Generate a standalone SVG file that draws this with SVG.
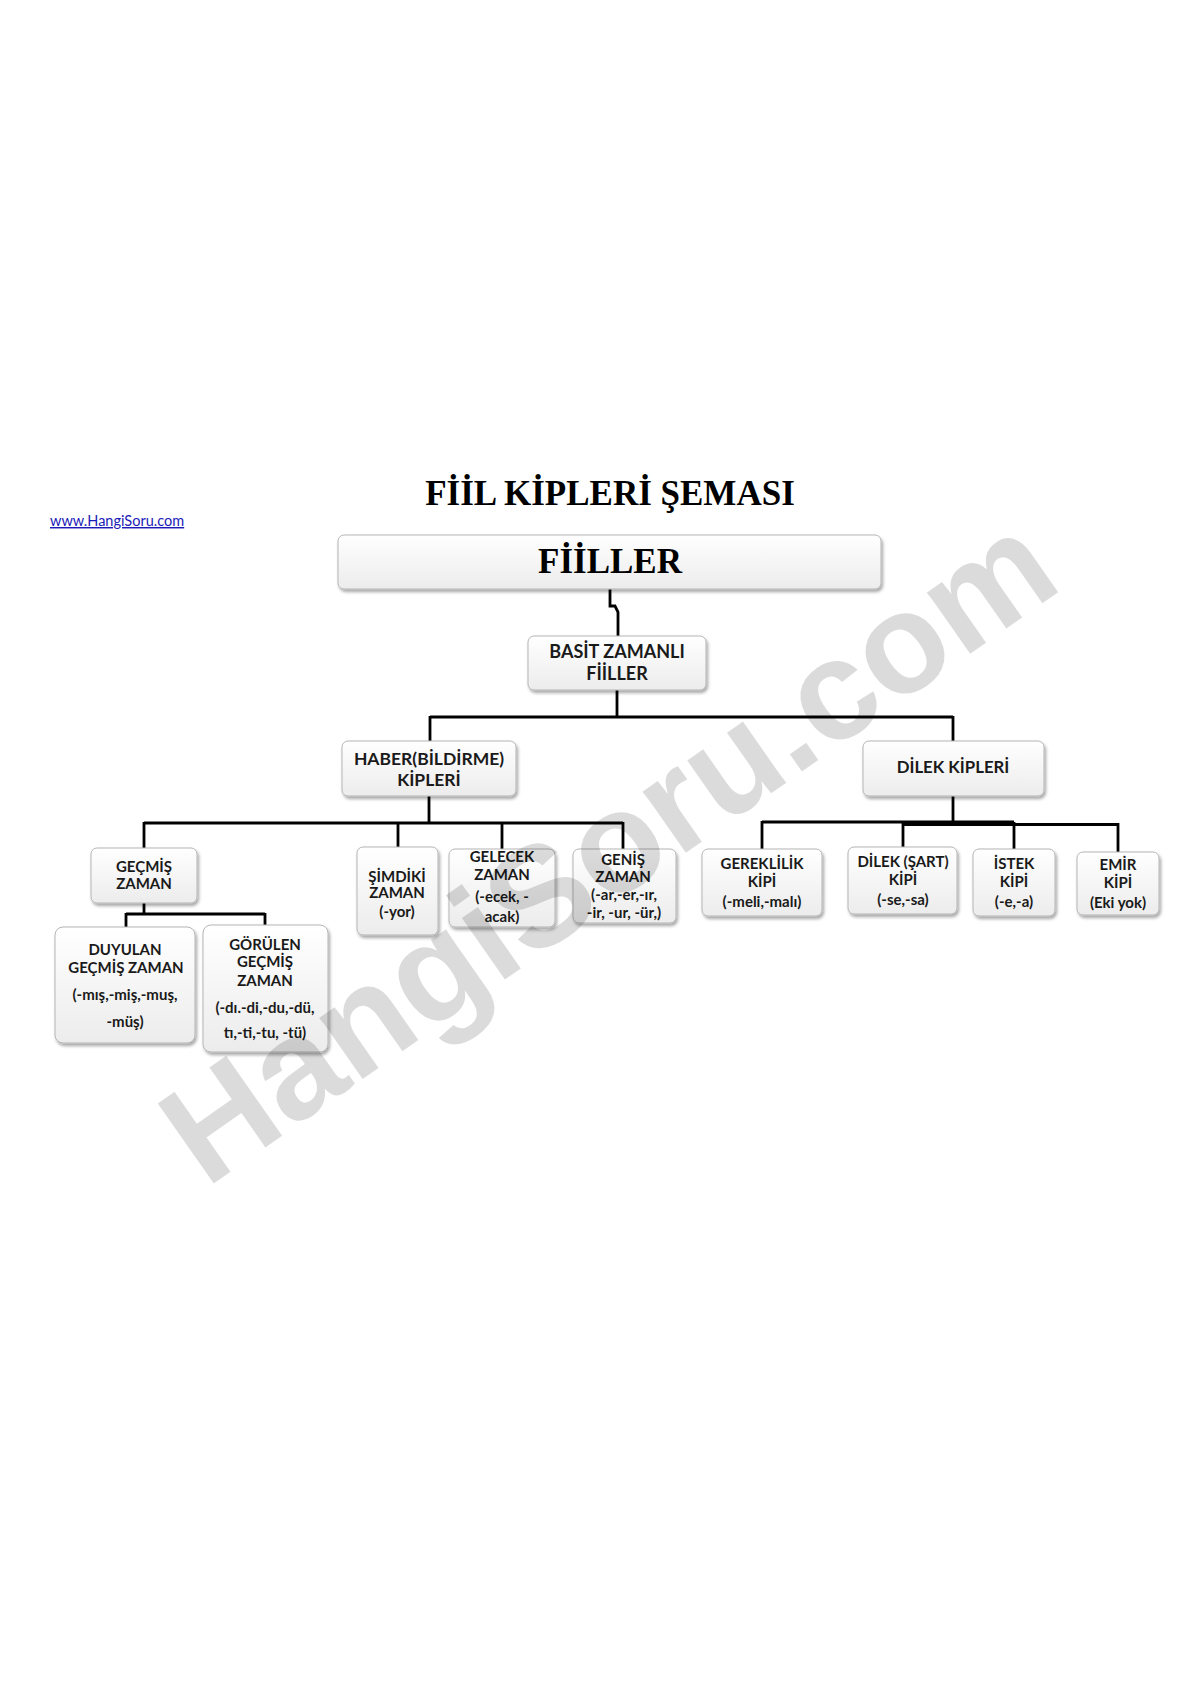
<svg xmlns="http://www.w3.org/2000/svg" width="1190" height="1684" viewBox="0 0 1190 1684">
<defs>
<linearGradient id="g" x1="0" y1="0" x2="0" y2="1">
<stop offset="0" stop-color="#ffffff"/>
<stop offset="1" stop-color="#ececec"/>
</linearGradient>
<filter id="sh" x="-10%" y="-10%" width="130%" height="140%">
<feDropShadow dx="1.5" dy="2.5" stdDeviation="1.5" flood-color="#000" flood-opacity="0.35"/>
</filter>
</defs>
<style>
.box{fill:url(#g);stroke:#b5b5b5;stroke-width:1;filter:url(#sh)}
.t{font-family:Lato,"Liberation Sans",sans-serif;font-weight:bold;fill:#1a1a1a;text-anchor:middle}
.s15{font-size:15px}
.s17{font-size:17px}
.s18{font-size:18px}
.c{fill:none;stroke:#000;stroke-width:2.8}
.wm{font-family:"Liberation Sans",Arial,sans-serif;font-weight:bold;font-size:142px;fill:#000;fill-opacity:0.14;text-anchor:middle}
</style>
<rect width="1190" height="1684" fill="#fff"/>
<text x="610" y="505" font-family="'Liberation Serif',serif" font-weight="bold" font-size="35" text-anchor="middle" fill="#000">FİİL KİPLERİ ŞEMASI</text>
<text x="50" y="526" font-family="Lato,'Liberation Sans',sans-serif" font-size="14.5" fill="#1b1bb8" text-decoration="underline">www.HangiSoru.com</text>

<g id="connectors">
<path class="c" d="M610,589 V606 H615 L618,612 V636"/>
<path class="c" d="M617,690 V717 M430,717 H953 M430,716 V741 M953,716 V741"/>
<path class="c" d="M429,796 V823 M144,823 H623 M144,822 V848 M398,822 V847 M502,822 V849 M623,822 V849"/>
<path class="c" d="M144,903 V914 M126,914 H265 M126,913 V927 M265,913 V925"/>
<path class="c" d="M953,796 V823 M762,822 H1014 M903,824.5 H1118 M762,821 V849 M903,822 V847 M1014,822 V849 M1118,823 V852"/>
</g>

<g id="fiiller">
<rect class="box" x="338" y="535" width="543" height="54" rx="6"/>
<text x="610" y="573" font-family="'Liberation Serif',serif" font-weight="bold" font-size="35" text-anchor="middle" fill="#000">FİİLLER</text>
</g>
<g id="basit">
<rect class="box" x="528" y="636" width="178" height="54" rx="6"/>
<text class="t s18" x="617" y="658">BASİT ZAMANLI</text>
<text class="t s18" x="617" y="680">FİİLLER</text>
</g>
<g id="haber">
<rect class="box" x="342" y="741" width="174" height="55" rx="6"/>
<text class="t" font-size="17.5" x="429" y="765">HABER(BİLDİRME)</text>
<text class="t" font-size="17.5" x="429" y="786">KİPLERİ</text>
</g>
<g id="dilek">
<rect class="box" x="863" y="741" width="181" height="55" rx="6"/>
<text class="t" font-size="16.8" x="953" y="773">DİLEK KİPLERİ</text>
</g>
<g id="gecmis">
<rect class="box" x="91" y="848" width="106" height="55" rx="6"/>
<text class="t s15" x="144" y="872">GEÇMİŞ</text>
<text class="t s15" x="144" y="889">ZAMAN</text>
</g>
<g id="simdiki">
<rect class="box" x="357" y="847" width="81" height="88" rx="6"/>
<text class="t s15" x="397" y="882">ŞİMDİKİ</text>
<text class="t s15" x="397" y="898">ZAMAN</text>
<text class="t s15" x="397" y="917">(-yor)</text>
</g>
<g id="gelecek">
<rect class="box" x="449" y="849" width="106" height="78" rx="6"/>
<text class="t s15" x="502" y="862">GELECEK</text>
<text class="t s15" x="502" y="880">ZAMAN</text>
<text class="t s15" x="502" y="902">(-ecek, -</text>
<text class="t s15" x="502" y="922">acak)</text>
</g>
<g id="genis">
<rect class="box" x="573" y="849" width="103" height="74" rx="6"/>
<text class="t s15" x="623" y="865">GENİŞ</text>
<text class="t s15" x="623" y="882">ZAMAN</text>
<text class="t s15" x="624" y="900">(-ar,-er,-ır,</text>
<text class="t s15" x="624" y="918">-ir, -ur, -ür,)</text>
</g>
<g id="duyulan">
<rect class="box" x="55" y="927" width="140" height="116" rx="8"/>
<text class="t s15" x="125" y="955">DUYULAN</text>
<text class="t s15" x="126" y="973">GEÇMİŞ ZAMAN</text>
<text class="t s15" x="125" y="1000">(-mış,-miş,-muş,</text>
<text class="t s15" x="125" y="1027">-müş)</text>
</g>
<g id="gorulen">
<rect class="box" x="203" y="925" width="125" height="127" rx="8"/>
<text class="t s15" x="265" y="950">GÖRÜLEN</text>
<text class="t s15" x="265" y="967">GEÇMİŞ</text>
<text class="t s15" x="265" y="986">ZAMAN</text>
<text class="t s15" x="265" y="1013">(-dı.-di,-du,-dü,</text>
<text class="t s15" x="265" y="1038">tı,-ti,-tu, -tü)</text>
</g>
<g id="gereklilik">
<rect class="box" x="702" y="849" width="120" height="67" rx="6"/>
<text class="t s15" x="762" y="869">GEREKLİLİK</text>
<text class="t s15" x="762" y="887">KİPİ</text>
<text class="t s15" x="762" y="907">(-meli,-malı)</text>
</g>
<g id="sart">
<rect class="box" x="848" y="847" width="109" height="67" rx="6"/>
<text class="t s15" x="903" y="867">DİLEK (ŞART)</text>
<text class="t s15" x="903" y="885">KİPİ</text>
<text class="t s15" x="903" y="905">(-se,-sa)</text>
</g>
<g id="istek">
<rect class="box" x="973" y="849" width="82" height="67" rx="6"/>
<text class="t s15" x="1014" y="869">İSTEK</text>
<text class="t s15" x="1014" y="887">KİPİ</text>
<text class="t s15" x="1014" y="907">(-e,-a)</text>
</g>
<g id="emir">
<rect class="box" x="1077" y="852" width="82" height="63" rx="6"/>
<text class="t s15" x="1118" y="870">EMİR</text>
<text class="t s15" x="1118" y="888">KİPİ</text>
<text class="t s15" x="1118" y="908">(Eki yok)</text>
</g>

<text class="wm" transform="translate(607,847) rotate(-35)" x="0" y="50">HangiSoru.com</text>
</svg>
